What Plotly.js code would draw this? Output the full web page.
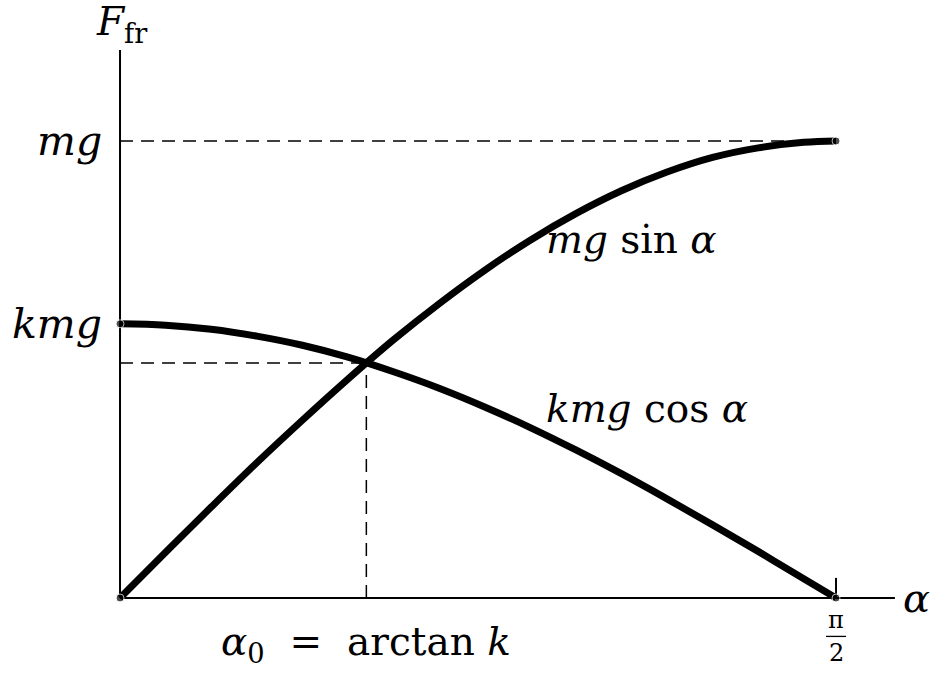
<!DOCTYPE html>
<html><head><meta charset="utf-8">
<script src="https://cdn.plot.ly/plotly-3.0.1.min.js"></script>
<style>html,body{margin:0;padding:0;background:#fff}</style>
</head><body>
<div id="chart" style="width:940px;height:679px"></div>
<script>
// angle samples (radians) and read-off curve values (in units of mg)
const alpha = [0, 0.1, 0.2, 0.3, 0.4, 0.5, 0.6, 0.7, 0.8, 0.9, 1.0, 1.1, 1.2, 1.3, 1.4, 1.5, 1.5708];
const mgSin = [0, 0.100, 0.199, 0.296, 0.389, 0.479, 0.565, 0.644, 0.717, 0.783, 0.841, 0.891, 0.932, 0.964, 0.985, 0.997, 1.0];
const kmgCos = [0.600, 0.597, 0.588, 0.573, 0.553, 0.527, 0.495, 0.459, 0.418, 0.373, 0.324, 0.272, 0.217, 0.160, 0.102, 0.042, 0];
const kVal = 0.6;        // kmg level
const alpha0 = 0.5404;   // intersection angle
const yAtAlpha0 = 0.5145;
const halfPi = 1.5708;

const serif = "DejaVu Serif, Liberation Serif, serif";
const ends = alpha.map((a, i) => (i === 0 || i === alpha.length - 1) ? 8 : 0);

const traces = [
  {x: alpha, y: mgSin, mode: 'lines+markers', line: {color: '#000', width: 7, shape: 'spline'},
   marker: {color: '#000', size: ends}, hoverinfo: 'skip'},
  {x: alpha, y: kmgCos, mode: 'lines+markers', line: {color: '#000', width: 7, shape: 'spline'},
   marker: {color: '#000', size: ends}, hoverinfo: 'skip'}
];

const dash = '13px,8px';
const shapes = [
  {type: 'line', x0: 0, x1: 1.700, y0: 0, y1: 0, line: {color: '#000', width: 2}, layer: 'below'},
  {type: 'line', x0: 0, x1: 0, y0: 0, y1: 1.199, line: {color: '#000', width: 2}, layer: 'below'},
  {type: 'line', x0: halfPi, x1: halfPi, y0: 0, y1: 0.044, line: {color: '#000', width: 2}, layer: 'below'},
  {type: 'line', x0: 0, x1: halfPi, y0: 1, y1: 1, line: {color: '#000', width: 1.5, dash: dash}, layer: 'below'},
  {type: 'line', x0: 0, x1: alpha0, y0: yAtAlpha0, y1: yAtAlpha0, line: {color: '#000', width: 1.5, dash: dash}, layer: 'below'},
  {type: 'line', x0: alpha0, x1: alpha0, y0: 0, y1: yAtAlpha0, line: {color: '#000', width: 1.5, dash: dash}, layer: 'below'},
  {type: 'line', x0: halfPi - 0.022, x1: halfPi + 0.022, y0: -0.084, y1: -0.084, line: {color: '#000', width: 1.3}}
];

const f = (s) => ({family: serif, size: s, color: '#000'});
const annotations = [
  {x: 0, y: 1.255, text: '<i>F</i><sub>fr</sub>', showarrow: false, xanchor: 'center', yanchor: 'middle', font: f(39), xshift: 2},
  {x: 0, y: 1, text: '<i>mg</i>', showarrow: false, xanchor: 'right', yanchor: 'middle', font: f(41), xshift: -16},
  {x: 0, y: kVal, text: '<i>kmg</i>', showarrow: false, xanchor: 'right', yanchor: 'middle', font: f(41), xshift: -16},
  {x: 0.93, y: 0.785, text: '<i>mg</i> sin <i>α</i>', showarrow: false, xanchor: 'left', yanchor: 'middle', font: f(39)},
  {x: 0.93, y: 0.415, text: '<i>kmg</i> cos <i>α</i>', showarrow: false, xanchor: 'left', yanchor: 'middle', font: f(39)},
  {x: 1.700, y: 0, text: '<i>α</i>', showarrow: false, xanchor: 'left', yanchor: 'middle', font: f(40), xshift: 6},
  {x: alpha0, y: -0.10, text: '<i>α</i><sub>0</sub>  =  arctan <i>k</i>', showarrow: false, xanchor: 'center', yanchor: 'middle', font: f(39)},
  {x: halfPi, y: -0.084, text: 'π', showarrow: false, xanchor: 'center', yanchor: 'bottom', font: f(24), yshift: 0},
  {x: halfPi, y: -0.084, text: '2', showarrow: false, xanchor: 'center', yanchor: 'top', font: f(24), yshift: -1}
];

const layout = {
  width: 940, height: 679,
  margin: {l: 0, r: 0, t: 0, b: 0},
  paper_bgcolor: '#fff', plot_bgcolor: '#fff',
  showlegend: false,
  xaxis: {range: [-0.2633, 1.7989], visible: false, fixedrange: true},
  yaxis: {range: [-0.1772, 1.3085], visible: false, fixedrange: true},
  shapes: shapes,
  annotations: annotations
};

Plotly.newPlot('chart', traces, layout, {displayModeBar: false, staticPlot: true});
</script>
</body></html>
